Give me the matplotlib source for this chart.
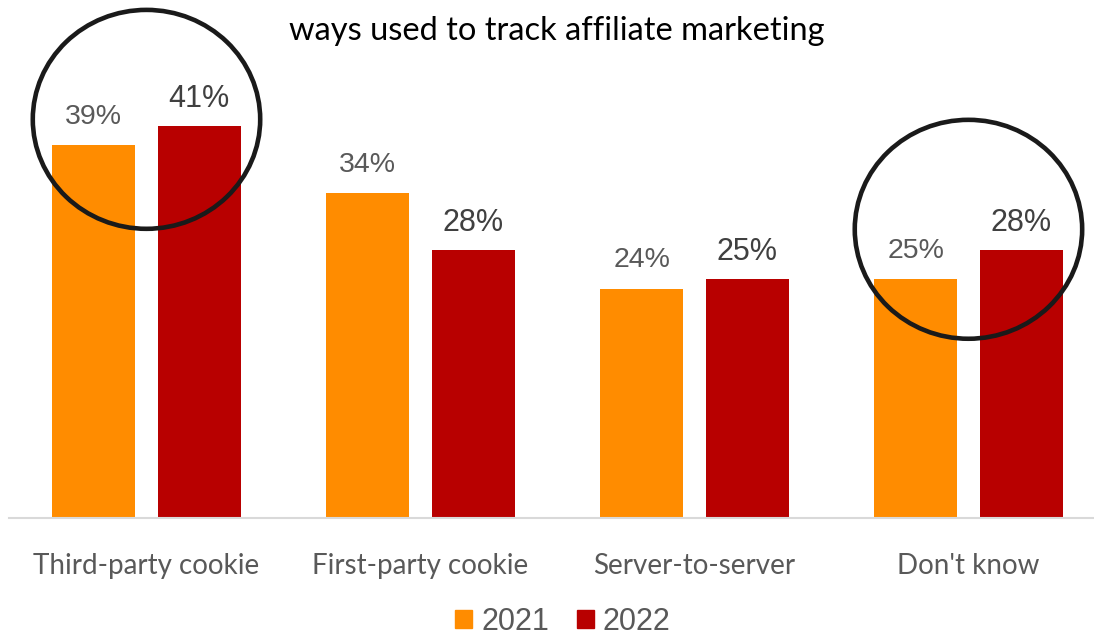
import matplotlib.pyplot as plt
import numpy as np
from matplotlib.patches import Ellipse, Patch

categories = ['Third-party cookie', 'First-party cookie', 'Server-to-server', "Don't know"]
years = ['2021', '2022']
values_2021 = [39, 34, 24, 25]
values_2022 = [41, 28, 25, 28]
# groups ringed with a black circle: (category index, circle centre in %)
highlights = [(0, 41.7), (3, 30.2)]

orange = '#FF8C00'
red = '#B80000'

fig = plt.figure(figsize=(10.94, 6.37), dpi=100)
ax = fig.add_axes([0.00868, 0.1868, 1.0018, 0.7504])

x = np.arange(len(categories))
w = 0.303
off = 0.193
b1 = ax.bar(x - off, values_2021, w, color=orange, label=years[0])
b2 = ax.bar(x + off, values_2022, w, color=red, label=years[1])

ax.bar_label(b1, labels=[f'{v}%' for v in values_2021], padding=11,
             fontsize=20.5, color='#595959', family='Liberation Sans')
ax.bar_label(b2, labels=[f'{v}%' for v in values_2022], padding=9,
             fontsize=22, color='#404040', family='Liberation Sans')

for i, yc in highlights:
    ax.add_patch(Ellipse((x[i], yc), 0.83, 22.9, fill=False,
                         edgecolor='#1a1a1a', linewidth=3.3, clip_on=False))

ax.set_xlim(-0.5, 3.5)
ax.set_ylim(0, 50)
ax.set_xticks(x)
ax.set_xticklabels(categories, fontsize=20, color='#595959', family='Lato')
ax.tick_params(axis='x', length=0, pad=25)
ax.set_yticks([])
for s in ['top', 'right', 'left']:
    ax.spines[s].set_visible(False)
ax.spines['bottom'].set_color('#d9d9d9')
ax.spines['bottom'].set_linewidth(1.5)

fig.text(557 / 1094, 1 - 31 / 637, 'ways used to track affiliate marketing',
         ha='center', va='center', fontsize=23.5, color='black', family='Lato')

handles = [Patch(color=orange), Patch(color=red)]
leg = fig.legend(handles, years, loc='center', bbox_to_anchor=(563 / 1094, 1 - 622 / 637),
                 ncol=2, frameon=False, handlelength=0.55, handleheight=0.55,
                 handletextpad=0.3, columnspacing=0.9,
                 prop={'family': 'Liberation Sans', 'size': 22})
for t in leg.get_texts():
    t.set_color('#595959')

fig.savefig('out.png', dpi=100)
